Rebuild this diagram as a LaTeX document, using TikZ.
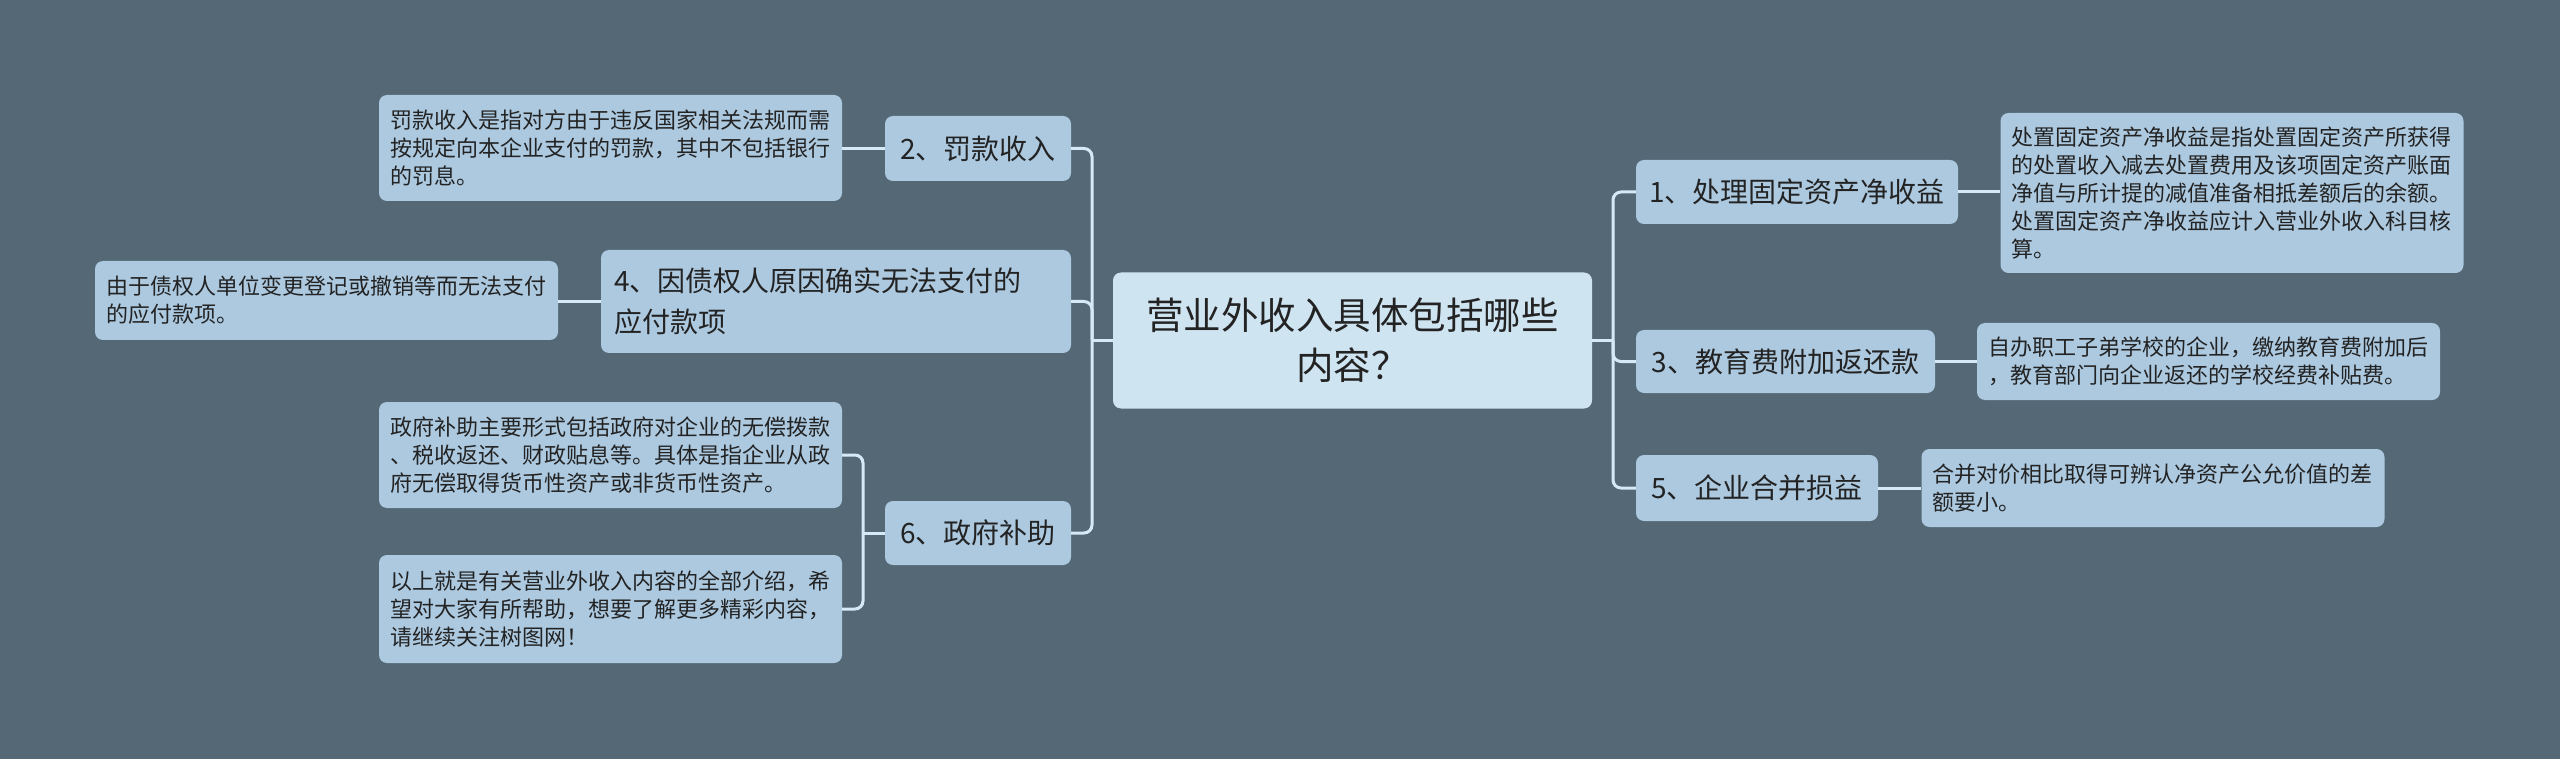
\documentclass[tikz,border=0pt]{standalone}
\usepackage{fontspec}
\newfontfamily\cjk{Noto Sans CJK SC}
\definecolor{bgc}{RGB}{84,104,118}
\definecolor{nodec}{RGB}{172,201,224}
\definecolor{rootc}{RGB}{207,228,241}
\definecolor{linec}{RGB}{214,234,246}
\definecolor{txtc}{RGB}{35,35,35}
\tikzset{
  basebox/.style={draw=none, rounded corners=8pt, text=txtc, inner sep=0pt},
  rootbox/.style={basebox, fill=rootc, align=center,
    font=\cjk\fontsize{37.5}{50}\selectfont},
  subbox/.style={basebox, fill=nodec, align=left,
    font=\cjk\fontsize{28}{41}\selectfont},
  leafbox/.style={basebox, fill=nodec, align=left, text width=441pt, inner xsep=11pt,
    font=\cjk\fontsize{22}{28}\selectfont},
  conn/.style={draw=linec, line width=3pt, rounded corners=8pt},
}
\begin{document}
\begin{tikzpicture}[x=1pt,y=-1pt]
\useasboundingbox (0,0) rectangle (2560,759);
\fill[bgc] (0,0) rectangle (2560,759);

% root
\node[rootbox, minimum width=479pt, minimum height=136pt] (root) at (1352.5,340.5)
  {营业外收入具体包括哪些\\内容？};

% left side
\node[subbox, minimum width=186pt, minimum height=65pt] (n2) at (978,148.5) {2、罚款收入};
\node[leafbox, minimum height=106pt] (t2) at (610.5,148)
  {罚款收入是指对方由于违反国家相关法规而需\\按规定向本企业支付的罚款，其中不包括银行\\的罚息。};

\node[subbox, text width=444pt, minimum width=470pt, minimum height=103pt] (n4) at (836,301.5)
  {4、因债权人原因确实无法支付的\\应付款项};
\node[leafbox, minimum height=79pt] (t4) at (326.5,300.5)
  {由于债权人单位变更登记或撤销等而无法支付\\的应付款项。};

\node[subbox, minimum width=186pt, minimum height=64pt] (n6) at (978,533) {6、政府补助};
\node[leafbox, minimum height=106pt] (t6a) at (610.5,455)
  {政府补助主要形式包括政府对企业的无偿拨款\\、税收返还、财政贴息等。具体是指企业从政\\府无偿取得货币性资产或非货币性资产。};
\node[leafbox, minimum height=108pt] (t6b) at (610.5,609)
  {以上就是有关营业外收入内容的全部介绍，希\\望对大家有所帮助，想要了解更多精彩内容，\\请继续关注树图网！};

% right side
\node[subbox, minimum width=322pt, minimum height=64pt] (n1) at (1797,192) {1、处理固定资产净收益};
\node[leafbox, minimum height=160pt] (t1) at (2232,193)
  {处置固定资产净收益是指处置固定资产所获得\\的处置收入减去处置费用及该项固定资产账面\\净值与所计提的减值准备相抵差额后的余额。\\处置固定资产净收益应计入营业外收入科目核\\算。};

\node[subbox, minimum width=299pt, minimum height=63pt] (n3) at (1785.5,361.5) {3、教育费附加返还款};
\node[leafbox, minimum height=77pt] (t3) at (2208.5,361.5)
  {自办职工子弟学校的企业，缴纳教育费附加后\\，教育部门向企业返还的学校经费补贴费。};

\node[subbox, minimum width=242pt, minimum height=66pt] (n5) at (1757,488) {5、企业合并损益};
\node[leafbox, minimum height=78pt] (t5) at (2153,488)
  {合并对价相比取得可辨认净资产公允价值的差\\额要小。};

% junction coordinates
\coordinate (lj) at (1092,340.5);
\coordinate (rj) at (1613,340.5);
\coordinate (sj) at (863,533);

% connectors left
\draw[conn] (root.west) -- (lj);
\draw[conn] (lj) |- (n2.east);
\draw[conn] (lj) |- (n4.east);
\draw[conn] (lj) |- (n6.east);
\draw[conn] (n2.west) -- (t2.east |- n2.west);
\draw[conn] (n4.west) -- (t4.east |- n4.west);
\draw[conn] (n6.west) -- (sj);
\draw[conn] (sj) |- (t6a.east);
\draw[conn] (sj) |- (t6b.east);

% connectors right
\draw[conn] (root.east) -- (rj);
\draw[conn] (rj) |- (n1.west);
\draw[conn] (rj) |- (n3.west);
\draw[conn] (rj) |- (n5.west);
\draw[conn] (n1.east) -- (t1.west |- n1.east);
\draw[conn] (n3.east) -- (t3.west |- n3.east);
\draw[conn] (n5.east) -- (t5.west |- n5.east);
\end{tikzpicture}
\end{document}
